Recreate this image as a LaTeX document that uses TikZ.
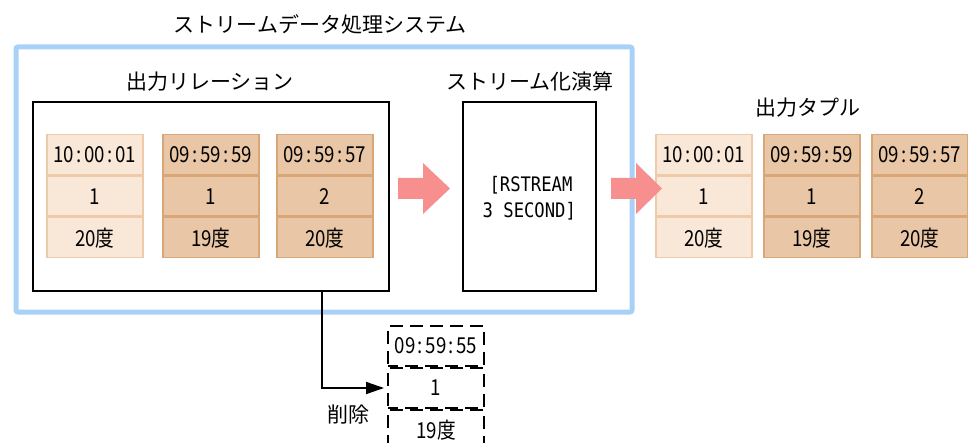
\documentclass[tikz,border=0pt]{standalone}
\usepackage{fontspec}
\setmainfont{Noto Sans CJK JP}
\newfontfamily\cellfont[FakeStretch=0.85]{Noto Sans CJK JP}
\newfontfamily\monofont[FakeStretch=0.86]{DejaVu Sans Mono}
\usetikzlibrary{arrows.meta}
\definecolor{frameblue}{HTML}{A9D1F7}
\definecolor{arrowred}{HTML}{F78F8F}
\definecolor{lightfill}{HTML}{F9E7D8}
\definecolor{lightline}{HTML}{EDCBAA}
\definecolor{darkfill}{HTML}{E9C6A6}
\definecolor{darkline}{HTML}{D9A677}
\tikzset{
  lbl/.style={font=\fontsize{21}{24}\selectfont, inner sep=0pt},
  celltxt/.style={font=\cellfont\fontsize{22}{24}\selectfont, inner sep=0pt},
  lightcell/.style={draw=lightline, fill=lightfill, line width=1.5pt},
  darkcell/.style={draw=darkline, fill=darkfill, line width=1.5pt},
  dashcell/.style={draw=black, dash pattern=on 13pt off 7pt, dash phase=3pt, line width=2pt},
  blockarrow/.style={fill=arrowred, draw=none},
}
\newcommand{\tm}[3]{#1\kern2.5pt:\kern2.5pt#2\kern2.5pt:\kern2.5pt#3}
% tuple: x left, y top, style, time, value, temp, name
\newcommand{\tuple}[7]{%
  \node[#3, minimum width=96pt, minimum height=40pt, inner sep=0pt, anchor=north west] (#7a) at (#1,#2) {};
  \node[#3, minimum width=96pt, minimum height=40pt, inner sep=0pt, anchor=north] (#7b) at (#7a.south) {};
  \node[#3, minimum width=96pt, minimum height=40pt, inner sep=0pt, anchor=north] (#7c) at (#7b.south) {};
  \node[celltxt] at (#7a) {#4};
  \node[celltxt] at (#7b) {#5};
  \node[celltxt] at (#7c) {#6};
}
\begin{document}
\begin{tikzpicture}[x=1pt,y=-1pt]
\useasboundingbox (0,0) rectangle (968,443);
% frame
\node[draw=frameblue, line width=5pt, rounded corners=2pt, minimum width=616pt, minimum height=265pt, anchor=north west, inner sep=0pt] (sys) at (13.5,44.5) {};
\node[lbl] (systitle) at (320,24) {ストリームデータ処理システム};
% output relation
\node[draw=black, line width=1.6pt, minimum width=356pt, minimum height=189pt, anchor=north west, inner sep=0pt] (rel) at (32,101.5) {};
\node[lbl] (reltitle) at (210,82) {出力リレーション};
\tuple{46}{134}{lightcell}{\tm{10}{00}{01}}{1}{20度}{r1}
\tuple{162}{134}{darkcell}{\tm{09}{59}{59}}{1}{19度}{r2}
\tuple{276}{134}{darkcell}{\tm{09}{59}{57}}{2}{20度}{r3}
% stream op
\node[draw=black, line width=1.6pt, minimum width=133pt, minimum height=189pt, anchor=north west, inner sep=0pt] (op) at (462,101.5) {};
\node[lbl] (optitle) at (530,82) {ストリーム化演算};
\node[font=\monofont\fontsize{20}{26}\selectfont, align=center, inner sep=0pt] (optext) at ([yshift=-1pt]op.center) {\,[RSTREAM\\3 SECOND]};
% arrows
\fill[blockarrow] (398,178) -- (423,178) -- (423,163) -- (450,188.5) -- (423,214) -- (423,199) -- (398,199) -- cycle;
% output tuples
\node[lbl] (outtitle) at (808,108) {出力タプル};
\tuple{655}{134}{lightcell}{\tm{10}{00}{01}}{1}{20度}{o1}
\tuple{763}{134}{darkcell}{\tm{09}{59}{59}}{1}{19度}{o2}
\tuple{871}{134}{darkcell}{\tm{09}{59}{57}}{2}{20度}{o3}
\fill[blockarrow] (611,178) -- (636,178) -- (636,163) -- (662,188.5) -- (636,214) -- (636,199) -- (611,199) -- cycle;
% deleted tuple
\tuple{387}{325}{dashcell}{\tm{09}{59}{55}}{1}{19度}{d1}
\coordinate (delstart) at (322,290.5);
\draw[line width=1.6pt, -{Triangle[length=18pt,width=12pt]}] (delstart) |- ([xshift=-3pt]d1b.west);
\node[lbl] (deltxt) at (348,415) {削除};
\end{tikzpicture}
\end{document}
